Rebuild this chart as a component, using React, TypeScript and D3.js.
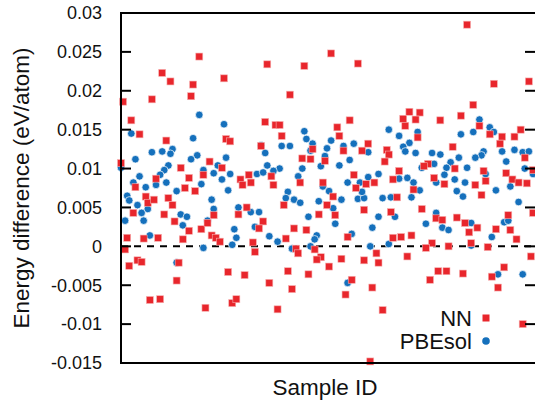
import React from "react";
import * as d3 from "d3";

// NN energy differences: [sample ID, eV/atom]
const nnPoints: [number, number][] = [
  [38,0.0244],[20,0.0223],[24,0.0212],[35,0.0208],[50,0.0216],[34,0.0193],[15,0.0189],[1,0.0186],[5,0.0162],[9,0.0144],[22,0.0136],[51,0.0138],[53,0.0135],[0,0.0107],[43,0.0109],[29,0.0101],[49,0.0101],[40,0.0092],[62,0.0092],
  [102,0.0248],[71,0.0234],[89,0.0232],[115,0.0235],[82,0.0195],[70,0.0160],[75,0.0156],[77,0.0156],[78,0.0142],[111,0.0162],[105,0.0153],[106,0.0142],[68,0.0129],[120,0.0132],[93,0.0125],[108,0.0123],[117,0.0123],[129,0.0124],[130,0.0118],[88,0.0113],[92,0.0112],[99,0.0110],[128,0.0109],[113,0.0092],
  [168,0.0285],[181,0.0209],[198,0.0212],[171,0.0182],[165,0.0168],[140,0.0173],[145,0.0172],[137,0.0164],[143,0.0163],[138,0.0155],[155,0.0162],[174,0.0155],[144,0.0140],[179,0.0144],[185,0.0141],[191,0.0141],[194,0.0150],[184,0.0132],[161,0.0128],[196,0.0114],[149,0.0106],[147,0.0103],[162,0.0100],[176,0.0097],[135,0.0097],[187,0.0094],[200,0.0098],
  [17,0.0087],[7,0.0076],[33,0.0088],[31,0.0075],[36,0.0071],[58,0.0086],[59,0.0079],[63,0.0082],[12,0.0064],[13,0.0056],[16,0.0060],[23,0.0062],[25,0.0053],[6,0.0043],[21,0.0041],[26,0.0032],[33,0.0020],
  [39,0.0022],[42,0.0030],[45,0.0040],[61,0.0050],[57,0.0041],[3,0.0011],[11,0.0010],[18,0.0011],[30,0.0009],[44,0.0014],[46,0.0011],[48,0.0006],[2,-0.0004],[64,0.0005],[65,-0.0007],[4,-0.0025],[8,-0.0018],[10,-0.0020],[28,-0.0021],[27,-0.0044],[52,-0.0033],[60,-0.0037],[14,-0.0069],[19,-0.0068],[41,-0.0079],[54,-0.0073],[56,-0.0068],
  [73,0.0090],[74,0.0079],[87,0.0082],[98,0.0082],[114,0.0075],[119,0.0080],[123,0.0082],[79,0.0053],[103,0.0064],[100,0.0053],[96,0.0041],[104,0.0040],[118,0.0047],[131,0.0044],[69,0.0032],[67,0.0023],[84,0.0023],[90,0.0021],[80,0.0010],[110,0.0012],[85,-0.0003],[86,-0.0009],[94,-0.0004],[97,-0.0014],[95,-0.0017],[107,-0.0016],[118,-0.0018],[124,-0.0009],[125,-0.0021],[101,-0.0026],[81,-0.0032],[91,-0.0036],[72,-0.0047],[83,-0.0055],[112,-0.0043],[109,-0.0062],[122,-0.0053],[76,-0.0081],[127,-0.0082],[121,-0.0148],
  [132,0.0086],[152,0.0088],[157,0.0080],[172,0.0079],[177,0.0084],[190,0.0086],[193,0.0082],[197,0.0081],[142,0.0073],[134,0.0063],[175,0.0066],[146,0.0048],[153,0.0036],[156,0.0034],[163,0.0037],[167,0.0030],[173,0.0024],[169,0.0018],[188,0.0040],[182,0.0022],[189,0.0021],[192,0.0009],[200,0.0043],[132,0.0011],[136,0.0012],[141,0.0014],[151,0.0004],[148,-0.0002],[159,0.0000],[170,0.0004],[178,-0.0001],[139,-0.0013],[199,-0.0013],[186,-0.0027],[154,-0.0032],[158,-0.0032],[166,-0.0035],[180,-0.0039],[150,-0.0043],[183,-0.0053],[195,-0.0100],
];

// PBEsol energy differences: [sample ID, eV/atom]
const pbesolPoints: [number, number][] = [
  [38,0.0169],[50,0.0157],[5,0.0145],[35,0.0139],[15,0.0121],[20,0.0122],[25,0.0125],[24,0.0119],[37,0.0117],[34,0.0112],[7,0.0112],[51,0.0114],[0,0.0101],[47,0.0104],[23,0.0104],[21,0.0098],[40,0.0098],[45,0.0094],[53,0.0093],[19,0.0092],
  [89,0.0148],[90,0.0138],[102,0.0136],[130,0.0150],[78,0.0129],[82,0.0129],[68,0.0130],[93,0.0132],[100,0.0126],[108,0.0129],[113,0.0132],[70,0.0120],[92,0.0123],[99,0.0116],[120,0.0121],[111,0.0111],[71,0.0104],[66,0.0093],[69,0.0095],[77,0.0100],[74,0.0097],[88,0.0100],[97,0.0103],[106,0.0104],[125,0.0093],
  [174,0.0163],[179,0.0153],[144,0.0147],[135,0.0142],[165,0.0144],[171,0.0147],[181,0.0147],[140,0.0133],[137,0.0128],[138,0.0122],[143,0.0120],[151,0.0120],[155,0.0118],[176,0.0122],[175,0.0117],[172,0.0114],[185,0.0122],[191,0.0124],[195,0.0121],[198,0.0122],[164,0.0114],[187,0.0109],[160,0.0108],[158,0.0101],[152,0.0106],[146,0.0101],[168,0.0101],[196,0.0100],[157,0.0092],[177,0.0093],[200,0.0093],
  [9,0.0090],[6,0.0082],[12,0.0076],[17,0.0079],[22,0.0082],[39,0.0080],[27,0.0071],[49,0.0086],[52,0.0072],[3,0.0065],[4,0.0059],[8,0.0053],[13,0.0048],[44,0.0060],[45,0.0048],[10,0.0043],[2,0.0033],[11,0.0033],[29,0.0041],[32,0.0038],[30,0.0027],[42,0.0033],[57,0.0050],[63,0.0044],[55,0.0022],[56,0.0011],[54,0.0002],[14,0.0014],[40,-0.0002],[27,-0.0021],
  [86,0.0090],[110,0.0082],[116,0.0082],[120,0.0089],[81,0.0070],[80,0.0062],[84,0.0060],[87,0.0056],[98,0.0077],[101,0.0071],[96,0.0058],[107,0.0060],[103,0.0049],[115,0.0061],[118,0.0062],[127,0.0062],[117,0.0070],[67,0.0044],[91,0.0038],[125,0.0038],[104,0.0029],[65,0.0025],[122,0.0024],[72,0.0013],[76,0.0006],[95,0.0014],[94,0.0009],[112,0.0016],[83,-0.0003],[92,0.0000],[121,0.0000],[130,0.0003],[110,-0.0047],
  [135,0.0087],[139,0.0088],[142,0.0082],[162,0.0086],[167,0.0082],[153,0.0082],[131,0.0063],[141,0.0063],[145,0.0072],[163,0.0071],[166,0.0064],[182,0.0072],[189,0.0077],[193,0.0057],[133,0.0038],[153,0.0043],[148,0.0029],[156,0.0024],[159,0.0021],[170,0.0030],[186,0.0031],[188,0.0033],[180,0.0012],[170,0.0001],[183,-0.0036],[195,-0.0036],
];

const yTicks = [-0.015, -0.01, -0.005, 0, 0.005, 0.01, 0.015, 0.02, 0.025, 0.03];
const yTickLabels = ["-0.015", "-0.01", "-0.005", "0", "0.005", "0.01", "0.015", "0.02", "0.025", "0.03"];
const seriesNames = ["NN", "PBEsol"];
const seriesColors = ["#e8262c", "#1570bc"];

const W = 535, H = 403;
const left = 121, right = 535, top = 13, bottom = 363;
const FONT = "'Liberation Sans', Arial, Helvetica, sans-serif";

export default function App() {
  const x = d3.scaleLinear().domain([0, 200]).range([left, 533]);
  const y = d3.scaleLinear().domain([-0.015, 0.03]).range([bottom, top]);
  const sq = 7;
  const r = 3.8;
  return (
    <svg width={W} height={H} style={{ position: "absolute", left: 0, top: 0, background: "#fff" }}>
      <rect x={0} y={0} width={W} height={H} fill="#fff" />
      {/* zero dashed line */}
      <line x1={left} x2={right} y1={y(0)} y2={y(0)} stroke="#000" strokeWidth={2} strokeDasharray="7,6" />
      {/* PBEsol circles */}
      {pbesolPoints.map(([id, v], i) => (
        <circle key={"b" + i} cx={x(id)} cy={y(v)} r={r} fill={seriesColors[1]} stroke="#fff" strokeWidth={0.7} />
      ))}
      {/* NN squares */}
      {nnPoints.map(([id, v], i) => (
        <rect key={"r" + i} x={x(id) - sq / 2} y={y(v) - sq / 2} width={sq} height={sq} fill={seriesColors[0]} stroke="#f7b0b0" strokeWidth={0.6} />
      ))}
      {/* frame */}
      <line x1={left} x2={left} y1={top - 1} y2={bottom + 1} stroke="#000" strokeWidth={2} />
      <line x1={left - 1} x2={right + 2} y1={bottom} y2={bottom} stroke="#000" strokeWidth={2} />
      <line x1={left - 1} x2={right + 2} y1={top} y2={top} stroke="#000" strokeWidth={2} />
      {/* y ticks */}
      {yTicks.map((t, i) => (
        <g key={"t" + i}>
          <line x1={left} x2={left + 10} y1={y(t)} y2={y(t)} stroke="#000" strokeWidth={2} />
          <line x1={right - 10} x2={right} y1={y(t)} y2={y(t)} stroke="#000" strokeWidth={2} />
          <text x={102} y={y(t)} dy="0.35em" textAnchor="end" fontFamily={FONT} fontSize={18} fill="#111">
            {yTickLabels[i]}
          </text>
        </g>
      ))}
      {/* axis titles */}
      <text transform={`translate(29,${(top + bottom) / 2}) rotate(-90)`} textAnchor="middle" fontFamily={FONT} fontSize={22.5} fill="#111">
        Energy difference (eV/atom)
      </text>
      <text x={325} y={395} textAnchor="middle" fontFamily={FONT} fontSize={22.5} fill="#111">
        Sample ID
      </text>
      {/* legend */}
      <text x={472} y={326} textAnchor="end" fontFamily={FONT} fontSize={22} fill="#111">{seriesNames[0]}</text>
      <rect x={486 - sq / 2} y={318 - sq / 2} width={sq} height={sq} fill={seriesColors[0]} />
      <text x={472} y={349} textAnchor="end" fontFamily={FONT} fontSize={22} fill="#111">{seriesNames[1]}</text>
      <circle cx={486} cy={341} r={r} fill={seriesColors[1]} />
    </svg>
  );
}
